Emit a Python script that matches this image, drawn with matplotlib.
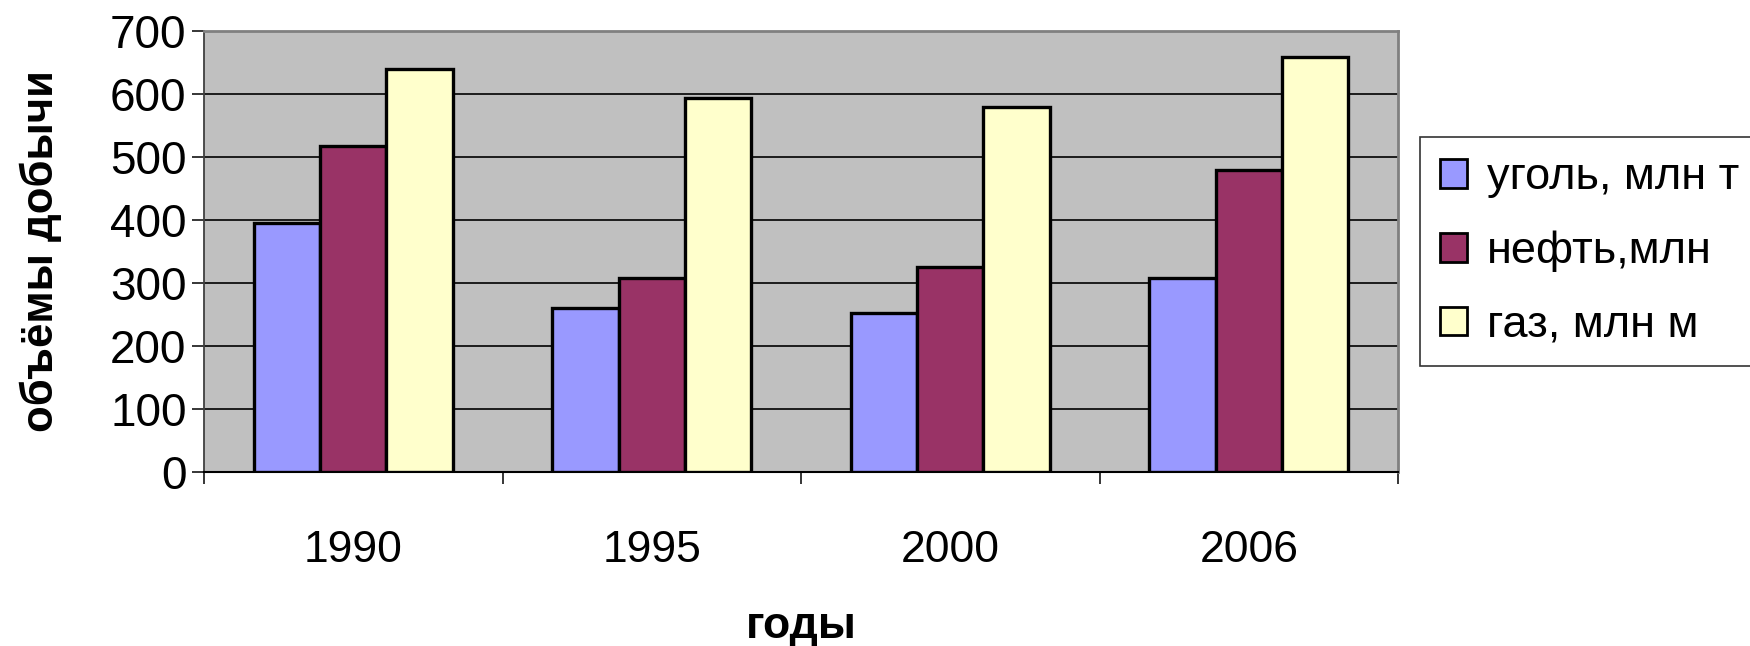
import matplotlib
matplotlib.use("Agg")
import matplotlib.pyplot as plt
import numpy as np
from matplotlib.patches import Patch

years = ["1990", "1995", "2000", "2006"]
series_names = ["уголь, млн т", "нефть,млн", "газ, млн м"]
coal = [396, 261, 253, 308]
oil = [517, 308, 326, 480]
gas = [640, 594, 580, 658]
series = [coal, oil, gas]
colors = ["#9999FF", "#993366", "#FFFFCC"]
yticks = [0, 100, 200, 300, 400, 500, 600, 700]

plt.rcParams['font.family'] = ['Liberation Sans', 'DejaVu Sans']

fig = plt.figure(figsize=(17.5, 6.46), dpi=100)
ax = fig.add_axes([204/1750, 1-472/646, (1398-204)/1750, (472-31)/646])
ax.set_facecolor("#C0C0C0")

x = np.arange(len(years))
w = 1/4.5
for i, (vals, col) in enumerate(zip(series, colors)):
    ax.bar(x + (i-1)*w, vals, width=w, color=col, edgecolor="black",
           linewidth=2.4, zorder=3, label=series_names[i])

ax.set_xlim(-0.5, len(years)-0.5)
ax.set_ylim(0, 700)
ax.set_yticks(yticks)
ax.set_yticklabels([str(t) for t in yticks])
ax.set_xticks(x)
ax.set_xticklabels(years)
ax.set_xticks(np.arange(-0.5, len(years), 1.0), minor=True)

for t in yticks[1:-1]:
    ax.axhline(t, color="black", linewidth=1.2, zorder=1)

ax.tick_params(axis='y', direction='out', length=8.6, width=1.1, pad=4.0,
               labelsize=33, colors='black')
ax.tick_params(axis='x', which='major', length=0, pad=42, labelsize=32)
ax.tick_params(axis='x', which='minor', direction='out', length=8.6, width=1.1)

for s in ['top', 'right']:
    ax.spines[s].set_color("#808080")
    ax.spines[s].set_linewidth(2)
ax.spines['left'].set_color("#404040")
ax.spines['left'].set_linewidth(1.3)
ax.spines['bottom'].set_color("black")
ax.spines['bottom'].set_linewidth(1.5)

ax.set_ylabel("объёмы добычи", fontsize=31.5, fontweight='bold')
ax.yaxis.set_label_coords(-0.119, 0.5)
ax.set_xlabel("годы", fontsize=32, fontweight='bold')
ax.xaxis.set_label_coords(0.5, -0.376)
ax.xaxis.label.set_va('baseline')

handles = [Patch(facecolor=c, edgecolor='black', linewidth=2) for c in colors]
leg = fig.legend(handles, series_names, loc='upper left',
                 bbox_to_anchor=(1420/1750, 1-137/646), fontsize=32.5,
                 frameon=True, fancybox=False, handlelength=0.6,
                 handleheight=0.6, handletextpad=0.43, labelspacing=0.72,
                 borderpad=0.45, borderaxespad=0)
leg.get_frame().set_edgecolor('black')
leg.get_frame().set_linewidth(1.2)

fig.savefig("out.png", dpi=100)
